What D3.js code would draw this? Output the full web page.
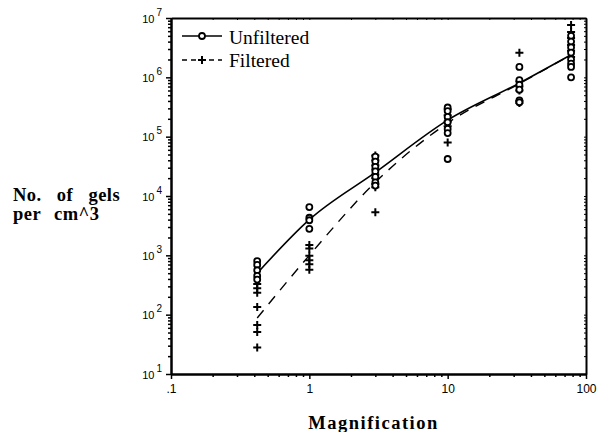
<!DOCTYPE html>
<html>
<head>
<meta charset="utf-8">
<script src="https://cdn.jsdelivr.net/npm/d3@7"></script>
<style>
  body { margin: 0; background: #fff; }
  svg { display: block; }
  .serif { font-family: "Liberation Serif", "DejaVu Serif", serif; }
  .tick text { font-family: "Liberation Sans", Arial, sans-serif; fill: #000; }
</style>
</head>
<body>
<svg id="chart" width="600" height="432"></svg>
<script>
// magnification of each sample group
const magnifications = [0.42, 1, 3, 10, 33, 78];

// measured gel counts, unfiltered (circles)
const unfilteredObs = [
    [800, 690, 560, 450, 390],
    [6500, 4300, 3900, 2800],
    [46000, 38000, 31000, 26000, 21000, 17000, 15000],
    [310000, 270000, 215000, 175000, 135000, 115000, 42000],
    [1500000, 900000, 750000, 620000, 410000, 380000],
    [5000000, 4000000, 3200000, 2600000, 2000000, 1700000, 1500000, 1000000],
];

// measured gel counts, filtered (crosses)
const filteredObs = [
    [330, 280, 235, 135, 67, 51, 28],
    [1500, 1300, 980, 830, 710, 570],
    [48000, 40000, 33000, 28000, 23000, 20000, 16000, 14000, 5300],
    [290000, 230000, 180000, 150000, 80000],
    [2600000, 850000, 700000, 600000, 400000, 370000],
    [7600000, 5800000, 4600000, 3500000, 2800000, 2200000],
];

// fitted curves
const unfilteredFit = [500, 4000, 25000, 190000, 800000, 2400000];
const filteredFit = [88, 1000, 17000, 170000, 780000, 2400000];

const xMajor = [0.1, 1, 10, 100];
const xLabels = [".1", "1", "10", "100"];
const yMajor = [1e1, 1e2, 1e3, 1e4, 1e5, 1e6, 1e7];
const yExponents = ["1", "2", "3", "4", "5", "6", "7"];

const svg = d3.select("#chart");
const margin = { top: 18, right: 14, bottom: 58, left: 171 };
const W = 600, H = 432;
const iw = W - margin.left - margin.right;
const ih = H - margin.top - margin.bottom;

const x = d3.scaleLog().domain([0.1, 100]).range([0, iw]);
const y = d3.scaleLog().domain([10, 1e7]).range([ih, 0]);

const g = svg.append("g").attr("transform", `translate(${margin.left},${margin.top})`);

const minors = (lo, hi) => {
    const out = [];
    for (let p = lo; p < hi; p *= 10) {
        for (let k = 2; k <= 9; k++) out.push(p * k);
    }
    return out;
};
const xMinor = minors(0.1, 100);
const yMinor = minors(10, 1e7);

const styleAxis = (sel) => {
    sel.select(".domain").attr("stroke", "#000").attr("stroke-width", 2);
    sel.selectAll(".tick line").attr("stroke", "#000").attr("stroke-width", 1.5);
};

// bottom axis
g.append("g").attr("transform", `translate(0,${ih})`)
    .call(d3.axisBottom(x).tickValues(xMinor).tickSize(3).tickSizeOuter(0).tickFormat(""))
    .call(styleAxis);
g.append("g").attr("transform", `translate(0,${ih})`)
    .call(d3.axisBottom(x).tickValues(xMajor).tickSize(5).tickSizeOuter(0)
        .tickFormat((d, i) => xLabels[i]))
    .call(styleAxis)
    .call(s => s.selectAll(".tick text").attr("font-size", 12).attr("dy", "0.9em"));

// left axis
g.append("g")
    .call(d3.axisLeft(y).tickValues(yMinor).tickSize(3).tickSizeOuter(0).tickFormat(""))
    .call(styleAxis);
g.append("g")
    .call(d3.axisLeft(y).tickValues(yMajor).tickSize(5).tickSizeOuter(0).tickFormat(""))
    .call(styleAxis)
    .call(s => s.selectAll(".tick").each(function (d, i) {
        const t = d3.select(this).append("text")
            .attr("x", -9).attr("y", 4)
            .attr("text-anchor", "end")
            .attr("font-size", 11);
        t.append("tspan").text("10");
        t.append("tspan").attr("dx", 2).attr("dy", -7).attr("font-size", 10).text(yExponents[i]);
    }));

// top and right axes (inner minor ticks)
g.append("g")
    .call(d3.axisBottom(x).tickValues(xMinor.concat(xMajor)).tickSize(2).tickSizeOuter(0).tickFormat(""))
    .call(styleAxis)
    .call(s => s.selectAll(".tick line").attr("stroke-width", 1));
g.append("g").attr("transform", `translate(${iw},0)`)
    .call(d3.axisLeft(y).tickValues(yMinor.concat(yMajor)).tickSize(2).tickSizeOuter(0).tickFormat(""))
    .call(styleAxis)
    .call(s => s.selectAll(".tick line").attr("stroke-width", 1));

// fitted curves
const line = d3.line()
    .x((d, i) => x(magnifications[i]))
    .y(d => y(d))
    .curve(d3.curveMonotoneX);

g.append("path").datum(unfilteredFit)
    .attr("d", line).attr("fill", "none")
    .attr("stroke", "#000").attr("stroke-width", 1.6);
g.append("path").datum(filteredFit)
    .attr("d", line).attr("fill", "none")
    .attr("stroke", "#000").attr("stroke-width", 1.4)
    .attr("stroke-dasharray", "10,8");

const flatten = (obs) => obs.flatMap((vals, i) => vals.map(v => ({ m: magnifications[i], v })));

const crossPath = (cx, cy, s) => `M${cx - s},${cy}H${cx + s}M${cx},${cy - s}V${cy + s}`;

g.append("g").selectAll("path")
    .data(flatten(filteredObs))
    .join("path")
    .attr("d", d => crossPath(x(d.m), y(d.v), 4))
    .attr("stroke", "#000").attr("stroke-width", 2);

g.append("g").selectAll("circle")
    .data(flatten(unfilteredObs))
    .join("circle")
    .attr("cx", d => x(d.m)).attr("cy", d => y(d.v))
    .attr("r", 3)
    .attr("fill", "#fff").attr("stroke", "#000").attr("stroke-width", 1.8);

// legend
const legend = svg.append("g");
legend.append("line").attr("x1", 182).attr("x2", 222).attr("y1", 36).attr("y2", 36)
    .attr("stroke", "#000").attr("stroke-width", 1.5);
legend.append("circle").attr("cx", 202).attr("cy", 36).attr("r", 3)
    .attr("fill", "#fff").attr("stroke", "#000").attr("stroke-width", 1.8);
legend.append("text").attr("class", "serif").attr("x", 229).attr("y", 44)
    .attr("font-size", 19.5).text("Unfiltered");
legend.append("line").attr("x1", 182).attr("x2", 222).attr("y1", 60).attr("y2", 60)
    .attr("stroke", "#000").attr("stroke-width", 1.4).attr("stroke-dasharray", "5,4");
legend.append("path").attr("d", crossPath(202, 60, 4))
    .attr("stroke", "#000").attr("stroke-width", 2);
legend.append("text").attr("class", "serif").attr("x", 229).attr("y", 67)
    .attr("font-size", 19.5).text("Filtered");

// axis titles
svg.append("text").attr("class", "serif")
    .attr("x", margin.left + iw / 2 - 5).attr("y", 429)
    .attr("text-anchor", "middle").attr("font-weight", "bold")
    .attr("font-size", 18.5).attr("letter-spacing", 1.5)
    .text("Magnification");

const yTitle = svg.append("text").attr("class", "serif")
    .attr("font-weight", "bold").attr("font-size", 18.5).attr("letter-spacing", 0.5);
yTitle.append("tspan").attr("x", 13).attr("y", 201)
    .attr("word-spacing", 10).text("No. of gels");
yTitle.append("tspan").attr("x", 13).attr("y", 220)
    .attr("word-spacing", 8).text("per cm^3");
</script>
</body>
</html>
